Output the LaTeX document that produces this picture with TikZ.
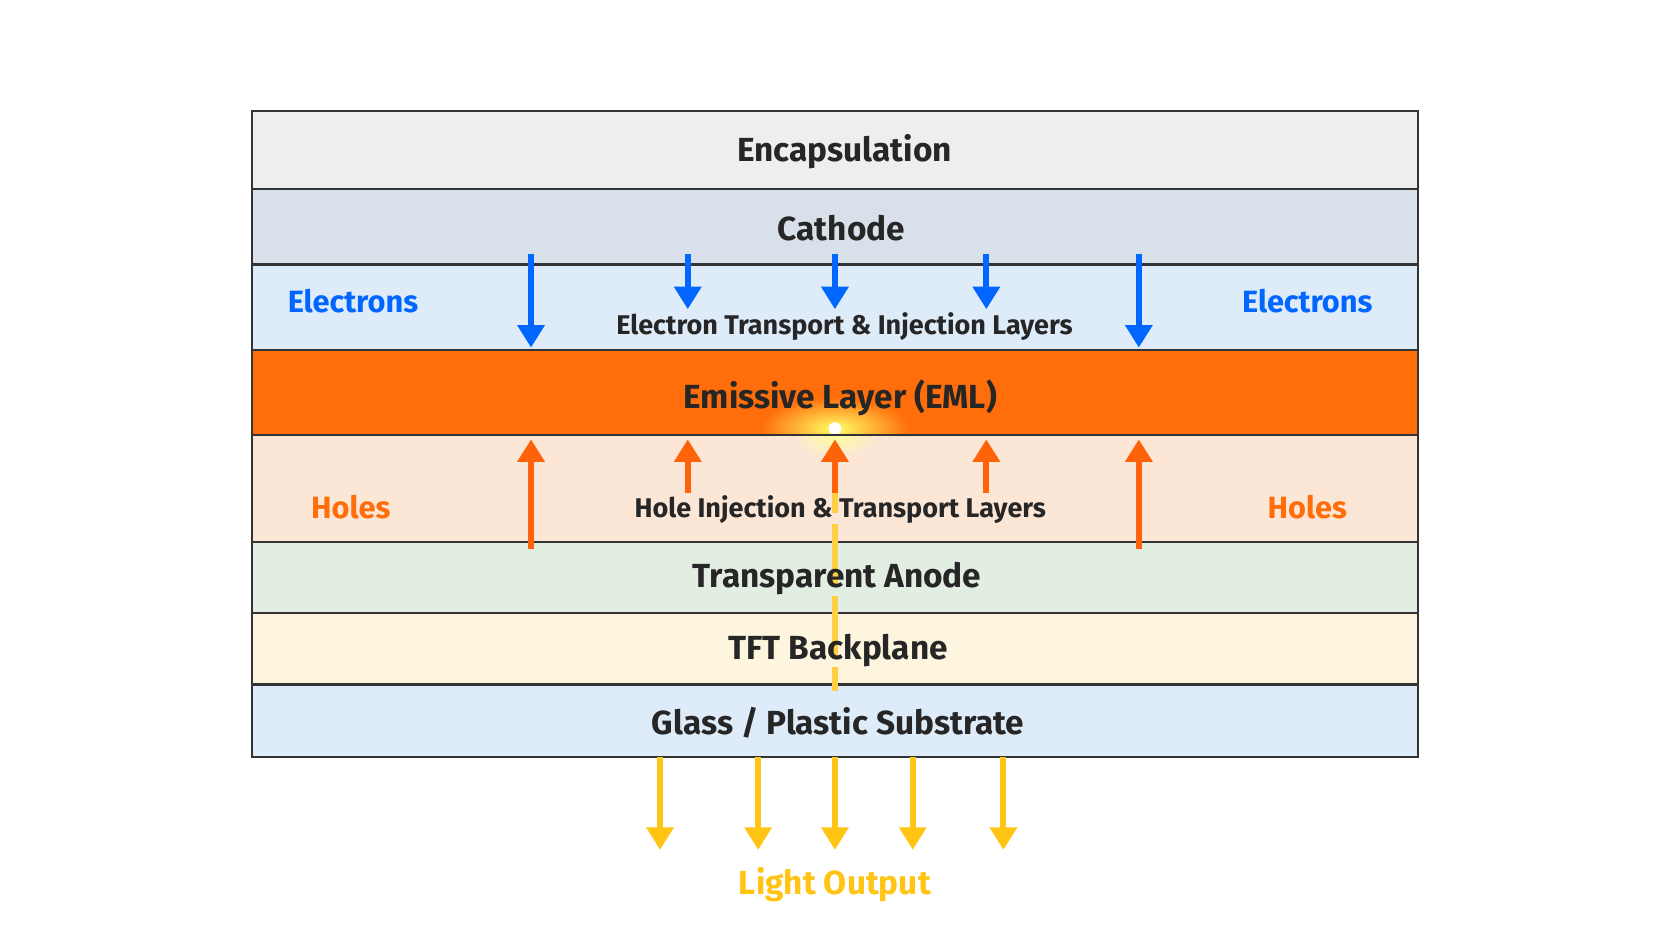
\documentclass[tikz,border=0pt]{standalone}
\usepackage{fontspec}
\setmainfont{Fira Sans}
\usetikzlibrary{arrows.meta}
\begin{document}
\begin{tikzpicture}[x=0.01cm,y=-0.01cm,
  lay/.style={draw=black!80,line width=0.6pt},
  big/.style={font=\fontsize{8.9}{10}\selectfont\bfseries,text=black!85},
  med/.style={font=\fontsize{7.2}{9}\selectfont\bfseries,text=black!85},
  side/.style={font=\fontsize{8.2}{10}\selectfont\bfseries}]
\useasboundingbox (0,0) rectangle (1568,882);
\definecolor{eblue}{RGB}{0,102,255}
\definecolor{hor}{RGB}{255,110,10}
\definecolor{lyel}{RGB}{255,196,20}
\definecolor{cencap}{RGB}{238,238,238}
\definecolor{ccath}{RGB}{216,225,234}
\definecolor{cetl}{RGB}{222,236,250}
\definecolor{chtl}{RGB}{252,230,214}
\definecolor{cano}{RGB}{226,238,226}
\definecolor{ctft}{RGB}{253,245,222}
\tikzset{barr/.style={draw=eblue,line width=1.6pt,-{Stealth[width=7pt,length=6pt,inset=0pt]}},
 oarr/.style={draw=hor!90!red,line width=1.6pt,-{Stealth[width=7pt,length=6pt,inset=0pt]}},
 yarr/.style={draw=lyel,line width=1.6pt,-{Stealth[width=7pt,length=6pt,inset=0pt]}}}
\fill[cencap] (236,104) rectangle (1330,177);
\fill[ccath] (236,177) rectangle (1330,248);
\fill[cetl] (236,248) rectangle (1330,328);
\fill[hor] (236,328) rectangle (1330,408);
\fill[chtl] (236,408) rectangle (1330,508);
\fill[cano] (236,508) rectangle (1330,575);
\fill[ctft] (236,575) rectangle (1330,642);
\fill[cetl] (236,642) rectangle (1330,710);
% glow
\begin{scope}
\clip (236,328) rectangle (1330,408);
\shade[inner color=yellow!60!white,outer color=hor] (783,402) ellipse (70 and 30);
\end{scope}
\begin{scope}
\clip (236,408) rectangle (1330,508);
\shade[inner color=yellow!40!white,outer color=chtl] (783,408) ellipse (40 and 20);
\end{scope}
\fill[white] (783,402) circle (6);
\foreach \y in {177,248,328,408,508,575,642} \draw[lay] (236,\y) -- (1330,\y);
\draw[lay] (236,104) rectangle (1330,710);
% light path
\draw[lyel!80,line width=1.8pt,dash pattern=on 16pt off 3pt] (783,425) -- (783,648);
\node[big] (enc) at (792,142) {Encapsulation};
\node[big] (cat) at (789,214) {Cathode};
\node[med] (etl) at (792,306) {Electron Transport \& Injection Layers};
\node[big] (eml) at (788,373) {Emissive Layer (EML)};
\node[med] (htl) at (788,478) {Hole Injection \& Transport Layers};
\node[big] (ano) at (785,543) {Transparent Anode};
\node[big] (tft) at (786,610) {TFT Backplane};
\node[big] (sub) at (786,678) {Glass / Plastic Substrate};
\node[side,text=eblue] (el) at (331,282) {Electrons};
\node[side,text=eblue] (er) at (1226,282) {Electrons};
\node[side,text=hor] (hl) at (329,476) {Holes};
\node[side,text=hor] (hr) at (1226,476) {Holes};
\node[side,text=lyel,font=\fontsize{8.9}{10}\selectfont\bfseries] (lo) at (783,830) {Light Output};
\foreach \x/\e in {498/326,645/290,783/290,925/290,1068/326} {
  \coordinate (bs\x) at (\x,238); \coordinate (be\x) at (\x,\e);
  \draw[barr] (bs\x) -- (be\x);}
\foreach \x/\s in {498/515,645/462,783/462,925/462,1068/515} {
  \coordinate (os\x) at (\x,\s); \coordinate (oe\x) at (\x,412);
  \draw[oarr] (os\x) -- (oe\x);}
\foreach \x in {619,711,783,856,941} {
  \coordinate (ys\x) at (\x,710); \coordinate (ye\x) at (\x,797);
  \draw[yarr] (ys\x) -- (ye\x);}
\end{tikzpicture}
\end{document}
